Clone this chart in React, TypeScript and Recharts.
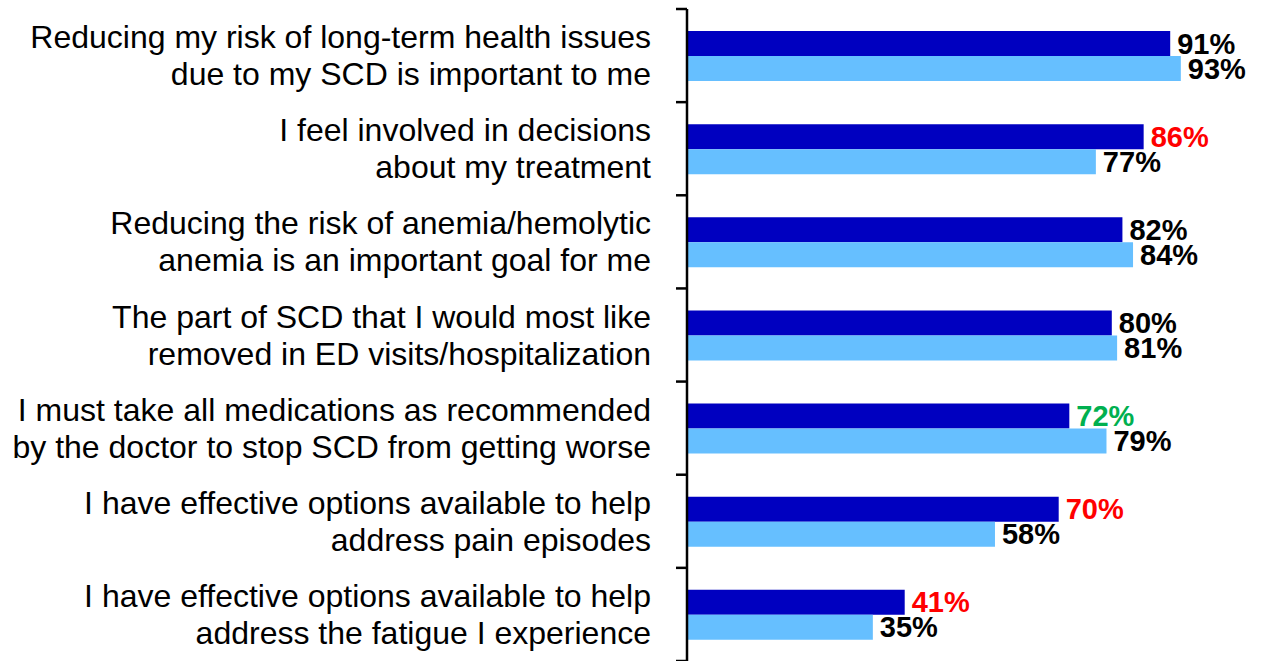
import React from "react";
import { BarChart, Bar, XAxis, YAxis, LabelList } from "recharts";

const categories = [
  "Reducing my risk of long-term health issues\ndue to my SCD is important to me",
  "I feel involved in decisions\nabout my treatment",
  "Reducing the risk of anemia/hemolytic\nanemia is an important goal for me",
  "The part of SCD that I would most like\nremoved in ED visits/hospitalization",
  "I must take all medications as recommended\nby the doctor to stop SCD from getting worse",
  "I have effective options available to help\naddress pain episodes",
  "I have effective options available to help\naddress the fatigue I experience",
];

const seriesA = [91, 86, 82, 80, 72, 70, 41];
const seriesB = [93, 77, 84, 81, 79, 58, 35];

const labelColorsA = ["#000000", "#FF0000", "#000000", "#000000", "#00B050", "#FF0000", "#FF0000"];
const labelColorsB = ["#000000", "#000000", "#000000", "#000000", "#000000", "#000000", "#000000"];

const data = categories.map((name, i) => ({
  name,
  a: seriesA[i],
  b: seriesB[i],
}));

const W = 1273;
const H = 661;
const TOP = 9;
const BAND = (H - TOP) / categories.length;
const FONT = "'Liberation Sans', Arial, sans-serif";
const LINE = 37;

function CategoryTick(props: any) {
  const { x, y, payload, index } = props;
  const lines = String(payload.value).split("\n");
  const top = y - BAND / 2;
  return (
    <g>
      <line x1={x - 11} x2={x} y1={top} y2={top} stroke="#000" strokeWidth={2.5} />
      {index === categories.length - 1 && (
        <line x1={x - 11} x2={x} y1={top + BAND} y2={top + BAND} stroke="#000" strokeWidth={2.5} />
      )}
      <text textAnchor="end" fontFamily={FONT} fontSize={32} fill="#000">
        {lines.map((l, i) => (
          <tspan key={i} x={x - 36} y={y - (LINE / 2) * (lines.length - 1) + LINE * i + 11}>
            {l}
          </tspan>
        ))}
      </text>
    </g>
  );
}

function makeLabel(colors: string[]) {
  return (props: any) => {
    const { x, y, width, height, value, index } = props;
    return (
      <text
        x={x + width + 7}
        y={y + height / 2 + 10}
        fontFamily={FONT}
        fontSize={29}
        fontWeight="bold"
        fill={colors[index]}
      >
        {value}%
      </text>
    );
  };
}

export default function App() {
  return (
    <div style={{ position: "absolute", left: 0, top: 0, background: "#fff" }}>
      <BarChart
        width={W}
        height={H}
        data={data}
        layout="vertical"
        margin={{ top: TOP, right: 55, bottom: 0, left: 0 }}
        barCategoryGap={22}
        barGap={0}
      >
        <XAxis type="number" domain={[0, 100]} hide />
        <YAxis
          type="category"
          dataKey="name"
          width={687}
          tickLine={false}
          tickSize={0}
          tickMargin={0}
          axisLine={{ stroke: "#000", strokeWidth: 2.5 }}
          tick={<CategoryTick />}
          interval={0}
        />
        <Bar dataKey="a" fill="#0000C0" isAnimationActive={false}>
          <LabelList dataKey="a" content={makeLabel(labelColorsA)} />
        </Bar>
        <Bar dataKey="b" fill="#66BFFF" isAnimationActive={false}>
          <LabelList dataKey="b" content={makeLabel(labelColorsB)} />
        </Bar>
      </BarChart>
    </div>
  );
}
